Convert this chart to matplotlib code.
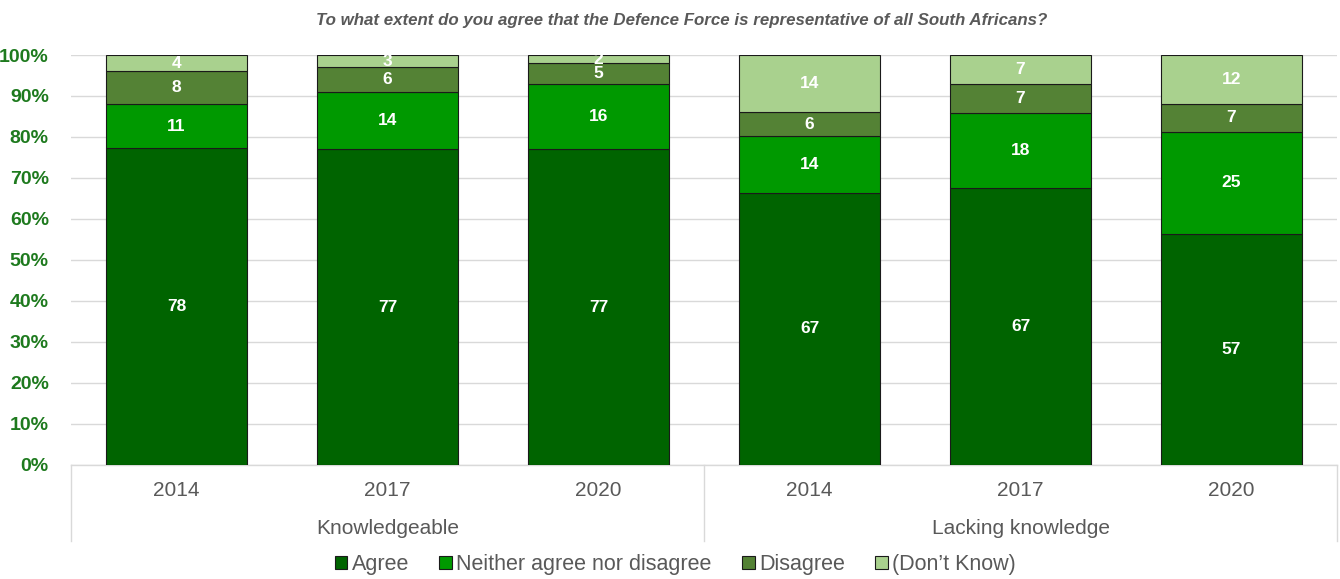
import numpy as np
import matplotlib.pyplot as plt
from matplotlib.patches import Patch

plt.rcParams['font.family'] = ['Liberation Sans', 'DejaVu Sans']

title = "To what extent do you agree that the Defence Force is representative of all South Africans?"
groups = ["Knowledgeable", "Lacking knowledge"]
years = ["2014", "2017", "2020"]
series = ["Agree", "Neither agree nor disagree", "Disagree", "(Don\u2019t Know)"]
colors = ["#006400", "#009900", "#548235", "#a9d18e"]

agree = [78, 77, 77, 67, 67, 57]
neither = [11, 14, 16, 14, 18, 25]
disagree = [8, 6, 5, 6, 7, 7]
dont_know = [4, 3, 2, 14, 7, 12]

values = np.array([agree, neither, disagree, dont_know], dtype=float)
shares = values / values.sum(axis=0) * 100

fig = plt.figure(figsize=(13.4, 5.79), dpi=100)
ax = fig.add_axes([0.053, 0.197, 0.9448, 0.708])

x = np.arange(values.shape[1])
bottom = np.zeros(len(x))
for i, name in enumerate(series):
    ax.bar(x, shares[i], 0.67, bottom=bottom, color=colors[i],
           edgecolor="#1a1a1a", linewidth=0.8, zorder=3, label=name)
    for xi, b, h, v in zip(x, bottom, shares[i], values[i]):
        ax.text(xi, b + h / 2, f"{v:.0f}", ha="center", va="center",
                color="white", fontsize=12.5, fontweight="bold", zorder=4)
    bottom += shares[i]

ax.set_xlim(-0.5, len(x) - 0.5)
ax.set_ylim(0, 100)
ax.set_yticks(np.arange(0, 101, 10))
ax.set_yticklabels([f"{t}%" for t in range(0, 101, 10)],
                   fontweight="bold", fontsize=14, color="#1e7a1e")
ax.tick_params(axis="y", length=0, pad=16)
ax.set_xticks([])
ax.grid(axis="y", color="#d9d9d9", linewidth=1, zorder=0)
for s in ["top", "right", "left"]:
    ax.spines[s].set_visible(False)
ax.spines["bottom"].set_color("#d9d9d9")
ax.spines["bottom"].set_linewidth(1)

# two-level category axis
trans = ax.get_xaxis_transform()
for xi, label in zip(x, years * len(groups)):
    ax.text(xi, -0.062, label, transform=trans, ha="center", va="center",
            fontsize=15, color="#595959")
for g, name in enumerate(groups):
    ax.text(g * 3 + 1, -0.155, name, transform=trans, ha="center", va="center",
            fontsize=15, color="#595959")
for xs in [-0.5, 2.5, 5.5]:
    ax.plot([xs, xs], [0, -0.185], transform=trans, color="#d9d9d9",
            linewidth=1, clip_on=False)

fig.text(0.509, 0.965, title, ha="center", va="center", fontsize=12.2,
         fontstyle="italic", fontweight="bold", color="#595959")

handles = [Patch(facecolor=c, edgecolor="#1a1a1a", linewidth=0.8) for c in colors]
leg = fig.legend(handles, series, loc="center", bbox_to_anchor=(0.504, 0.025),
                 ncol=4, frameon=False, fontsize=15.5, handlelength=0.6,
                 handleheight=0.6, handletextpad=0.2, columnspacing=1.4)
for t in leg.get_texts():
    t.set_color("#595959")

fig.savefig("out.png", dpi=100)
